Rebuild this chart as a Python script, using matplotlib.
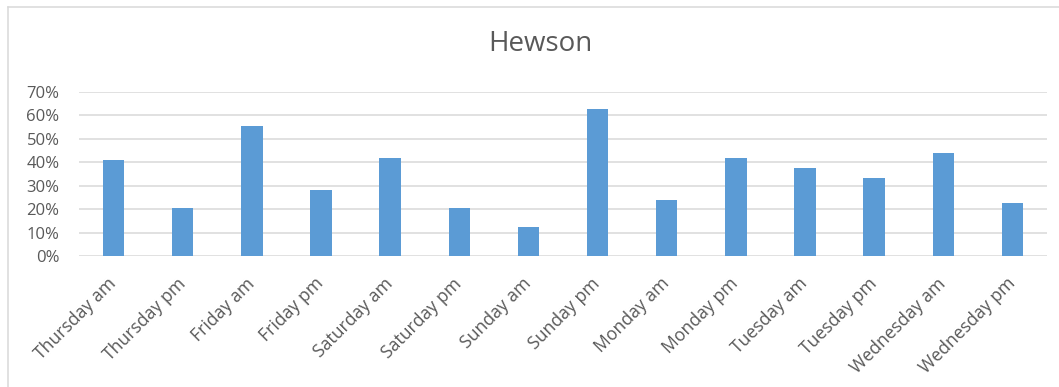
import matplotlib
matplotlib.use("Agg")
import matplotlib.pyplot as plt
from matplotlib.lines import Line2D
from matplotlib.ticker import PercentFormatter

categories = ["Thursday am", "Thursday pm", "Friday am", "Friday pm", "Saturday am",
              "Saturday pm", "Sunday am", "Sunday pm", "Monday am", "Monday pm",
              "Tuesday am", "Tuesday pm", "Wednesday am", "Wednesday pm"]
values = [0.41, 0.206, 0.555, 0.28, 0.416, 0.206, 0.124, 0.625, 0.237, 0.416,
          0.374, 0.331, 0.437, 0.226]
yticks = [0, 0.1, 0.2, 0.3, 0.4, 0.5, 0.6, 0.7]
title = "Hewson"

plt.rcParams['font.family'] = ['Open Sans', 'DejaVu Sans']
text_color = "#595959"

fig = plt.figure(figsize=(10.59, 3.87), dpi=100)
ax = fig.add_axes([79/1059, 1-256/387, (1047-79)/1059, (256-91.7)/387])

x = list(range(len(categories)))
ax.bar(x, values, width=0.31, color="#5B9BD5", zorder=3)
ax.set_xlim(-0.5, len(categories)-0.5)
ax.set_ylim(0, 0.7)
ax.set_yticks(yticks)
ax.yaxis.set_major_formatter(PercentFormatter(1.0, decimals=0))
ax.grid(axis='y', color="#D9D9D9", linewidth=1.1, zorder=0)
for s in ax.spines.values():
    s.set_visible(False)
ax.tick_params(axis='both', length=0, colors=text_color)
ax.tick_params(axis='y', pad=14, labelsize=12)
ax.set_xticks(x)
ax.set_xticklabels(categories, rotation=45, ha='right', va='center',
                   rotation_mode='anchor')
ax.tick_params(axis='x', pad=18, labelsize=12.7)

fig.text(540/1059, 1-44/387, title, ha='center', va='center', fontsize=20, color=text_color)

# chart border (left and top edges visible)
fig.add_artist(Line2D([8/1059, 8/1059], [0, 1-7/387], transform=fig.transFigure,
                      color="#D9D9D9", linewidth=1.1))
fig.add_artist(Line2D([8/1059, 1], [1-7/387, 1-7/387], transform=fig.transFigure,
                      color="#D9D9D9", linewidth=1.1))

fig.savefig("out.png", dpi=100)
